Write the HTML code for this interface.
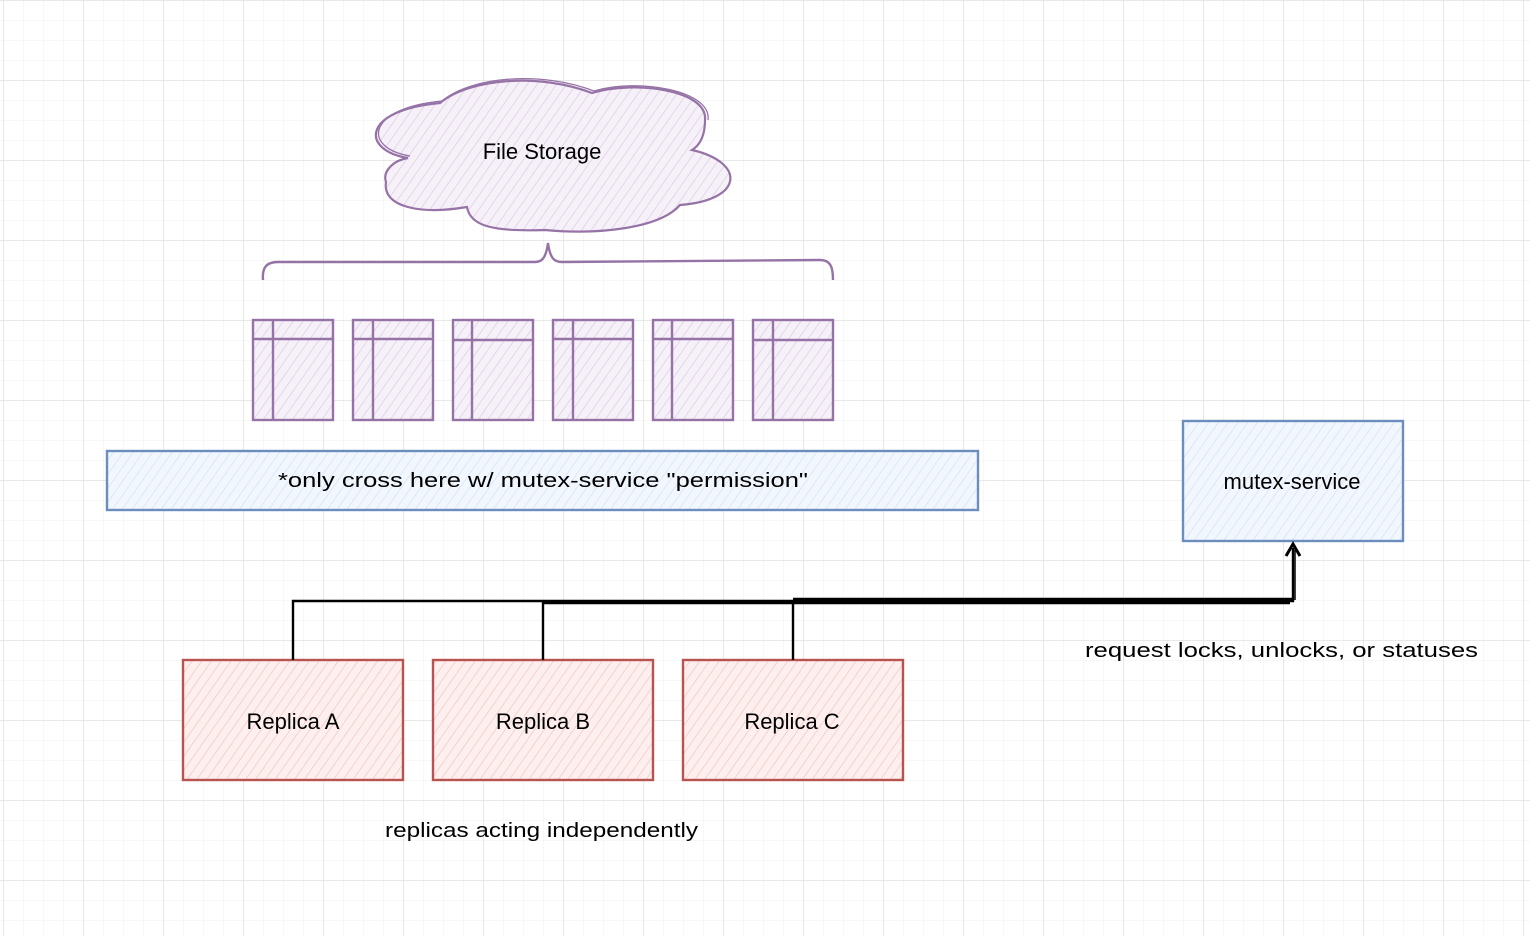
<!DOCTYPE html>
<html><head><meta charset="utf-8"><style>
html,body{margin:0;padding:0;background:#fff;}
svg{display:block}
text{font-family:"Liberation Sans",sans-serif;}
.h{font-family:"Liberation Sans",sans-serif;}
</style></head><body>
<svg width="1530" height="936" viewBox="0 0 1530 936" xmlns="http://www.w3.org/2000/svg">
<defs>
<pattern id="minor" width="20" height="20" patternUnits="userSpaceOnUse" x="3" y="0">
<path d="M0 0H20M0 0V20" stroke="#f0f0f0" stroke-width="1" fill="none"/></pattern>
<pattern id="major" width="80" height="80" patternUnits="userSpaceOnUse" x="3" y="0">
<path d="M0 0H80M0 0V80" stroke="#e0e0e0" stroke-width="1.5" fill="none"/></pattern>
<pattern id="hp" width="8" height="8" patternUnits="userSpaceOnUse" patternTransform="rotate(35)"><rect width="8" height="8" fill="#f6f1f8"/><path d="M0 0V8" stroke="#d8c8e0" stroke-width="1.3"/></pattern>
<pattern id="hb" width="8" height="8" patternUnits="userSpaceOnUse" patternTransform="rotate(35)"><rect width="8" height="8" fill="#f2f7fe"/><path d="M0 0V8" stroke="#cfe0f8" stroke-width="1.3"/></pattern>
<pattern id="hr" width="8" height="8" patternUnits="userSpaceOnUse" patternTransform="rotate(35)"><rect width="8" height="8" fill="#fcefee"/><path d="M0 0V8" stroke="#f2c2c0" stroke-width="1.3"/></pattern>
</defs>
<rect width="1530" height="936" fill="url(#minor)"/>
<rect width="1530" height="936" fill="url(#major)"/>

<path d="M408,158 C360,150 362,110 440,103 C470,78 540,73 592,93 C635,80 708,90 705,120 C705,135 700,145 692,150 C745,162 745,200 680,205 C660,228 600,235 545,230 C490,232 470,225 467,207 C420,215 382,207 386,182 C382,170 395,160 408,158 Z" fill="url(#hp)" stroke="#9673a6" stroke-width="2.2"/>
<path d="M410,156 C362,148 366,108 442,101 C472,76 542,71 594,91 C637,78 712,90 708,120" fill="none" stroke="#9673a6" stroke-width="1.3"/>
<text x="542" y="159" font-size="22" text-anchor="middle" fill="#000">File Storage</text>

<path d="M263,280 C262,268 266,262 278,262 L535,262 C542,262 546,258 548,243 C550,258 554,262 562,262 L820,260 C830,260 833,266 833,280" fill="none" stroke="#9673a6" stroke-width="2.4"/>

<g stroke="#9673a6" stroke-width="2.4" fill="url(#hp)">
<rect x="253" y="320" width="80" height="100"/><path d="M253 339H333M273 320V420" fill="none"/>
<rect x="353" y="320" width="80" height="100"/><path d="M353 339H433M373 320V420" fill="none"/>
<rect x="453" y="320" width="80" height="100"/><path d="M453 340H533M472 320V420" fill="none"/>
<rect x="553" y="320" width="80" height="100"/><path d="M553 339H633M573 320V420" fill="none"/>
<rect x="653" y="320" width="80" height="100"/><path d="M653 339H733M672 320V420" fill="none"/>
<rect x="753" y="320" width="80" height="100"/><path d="M753 340H833M773 320V420" fill="none"/>
</g>

<rect x="107" y="451" width="871" height="59" fill="url(#hb)" stroke="#6c8ebf" stroke-width="2.4"/>
<text x="278" y="487" font-size="20" textLength="530" lengthAdjust="spacingAndGlyphs" class="h" fill="#000">*only cross here w/ mutex-service "permission"</text>

<rect x="1183" y="421" width="220" height="120" fill="url(#hb)" stroke="#6c8ebf" stroke-width="2.4"/>
<text x="1292" y="489" font-size="22" text-anchor="middle" fill="#000">mutex-service</text>

<g stroke="#b85450" stroke-width="2.4" fill="url(#hr)">
<rect x="183" y="660" width="220" height="120"/>
<rect x="433" y="660" width="220" height="120"/>
<rect x="683" y="660" width="220" height="120"/>
</g>
<g font-size="22" text-anchor="middle" fill="#000">
<text x="293" y="729">Replica A</text>
<text x="543" y="729">Replica B</text>
<text x="792" y="729">Replica C</text>
</g>

<g stroke="#000" stroke-width="2.4" fill="none">
<path d="M293 660V601H1293V548"/>
<path d="M543 660V601"/>
<path d="M793 660V601"/>
<path d="M543 603H1290M793 599H1292"/>
<path d="M1286 556L1293 544L1300 556" stroke-width="3"/>
<path d="M1295 600V550" stroke-width="1.5"/>
</g>

<text x="1085" y="657" font-size="20" textLength="393" lengthAdjust="spacingAndGlyphs" class="h" fill="#000">request locks, unlocks, or statuses</text>
<text x="385" y="837" font-size="20" textLength="313" lengthAdjust="spacingAndGlyphs" class="h" fill="#000">replicas acting independently</text>
</svg>
</body></html>
